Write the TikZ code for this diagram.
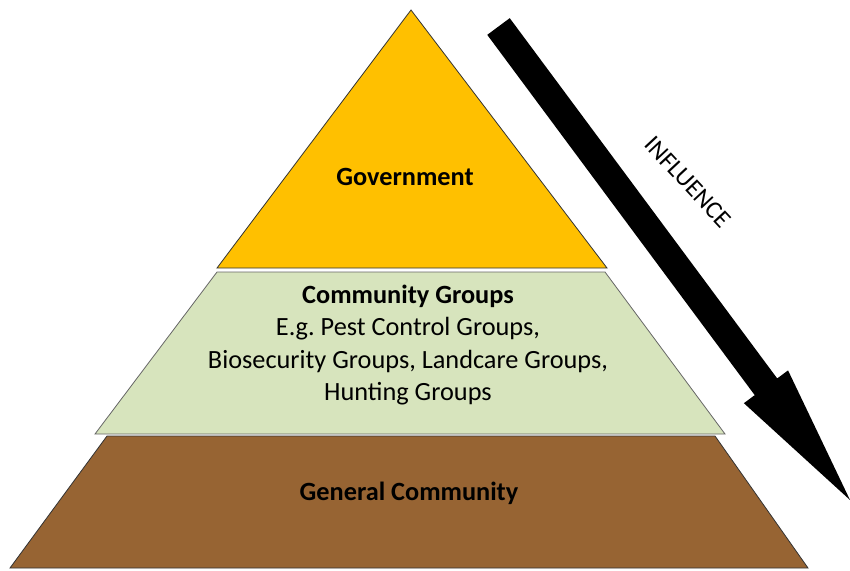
\documentclass[tikz,border=0pt]{standalone}
\usepackage{fontspec}
\setmainfont{Carlito}
\usepackage{tikz}
\usetikzlibrary{calc}
\usepackage{xcolor}
\definecolor{govgold}{HTML}{FFC000}
\definecolor{grpgreen}{HTML}{D7E4BD}
\definecolor{commbrown}{HTML}{976433}
\frenchspacing

\begin{document}
\begin{tikzpicture}[x=1pt,y=-1pt,
layer/.style={draw=black!80,line width=0.8pt,line join=miter},
label/.style={font=\fontsize{26.3}{32.5}\selectfont,align=center,inner sep=0pt}]
\useasboundingbox (0,0) rectangle (850,570);

% pyramid layers
\coordinate (Apex) at (411,10);
\coordinate (GovW) at (217,268);
\coordinate (GovE) at (607,268);
\coordinate (GrpNW) at (217,272);
\coordinate (GrpNE) at (605,272);
\coordinate (GrpSW) at (95,434);
\coordinate (GrpSE) at (725,434);
\coordinate (GenNW) at (107,436);
\coordinate (GenNE) at (715,436);
\coordinate (GenSW) at (10,568);
\coordinate (GenSE) at (808,568);

\filldraw[layer,fill=commbrown] (GenNW) -- (GenNE) -- (GenSE) -- (GenSW) -- cycle;
\filldraw[layer,draw=black!60,fill=grpgreen] (GrpNW) -- (GrpNE) -- (GrpSE) -- (GrpSW) -- cycle;
\filldraw[layer,fill=govgold] (Apex) -- (GovE) -- (GovW) -- cycle;

\node[label] (Gov) at (405,177) {\textbf{Government}};
\node[label] (Groups) at (408,345) {\textbf{Community Groups}\\E.g. Pest Control Groups,\\Biosecurity Groups, Landcare Groups,\\Hunting Groups};
\node[label] (General) at (409,493) {\textbf{General Community}};

% influence arrow
\coordinate (Tail) at (498.5,26.5);
\coordinate (Tip) at (850,500);
\coordinate (Back) at ($(Tip)!141pt!(Tail)$);
\fill ($(Tail)!14pt!90:(Tip)$) -- ($(Back)!14pt!90:(Tip)$) -- ($(Back)!27.5pt!90:(Tip)$)
  -- (Tip) -- ($(Back)!27.5pt!-90:(Tip)$) -- ($(Back)!14pt!-90:(Tip)$)
  -- ($(Tail)!14pt!-90:(Tip)$) -- cycle;

\node[label,font=\fontsize{25}{25}\selectfont,rotate=-47] (Influence) at (688,182) {INFLUENCE};
\end{tikzpicture}
\end{document}
